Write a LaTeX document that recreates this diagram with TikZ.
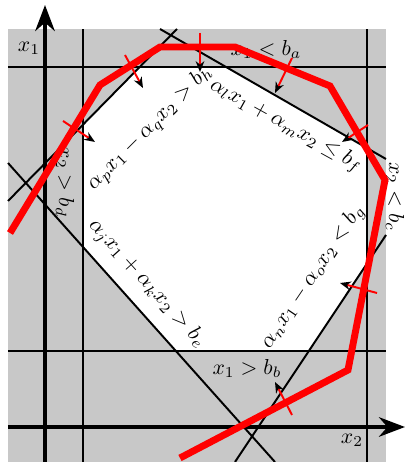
\documentclass[tikz,border=0pt]{standalone}
\usepackage{tikz}
\usetikzlibrary{arrows.meta,positioning,calc}
\tikzset{every picture/.style={line width=0.9pt}}
\definecolor{regiongray}{RGB}{200,200,200}
\tikzset{
    axis/.style={line width=1.8pt, -{Stealth[length=12pt,width=9pt]}},
    walk/.style={red, line width=3.2pt},
    inward/.style={red, line width=0.9pt, -{Stealth[color=black,length=5pt,width=4pt]}},
}

\begin{document}
\begin{tikzpicture}[x=0.1622cm, y=0.1622cm]
    \useasboundingbox (-4.5,-3.5) rectangle (36,42.7);
    % shaded box
    \coordinate (sw) at (-3.7,-3.5);
    \coordinate (ne) at (34.1,39.8);
    \fill[regiongray] (sw) rectangle (ne);

    % constraint lines
    \coordinate (a1) at (-3.7,36);   \coordinate (a2) at (34.1,36);
    \coordinate (b1) at (-3.7,7.6);  \coordinate (b2) at (34.1,7.6);
    \coordinate (c1) at (32.2,-3.5); \coordinate (c2) at (32.2,39.8);
    \coordinate (d1) at (3.8,-3.5);  \coordinate (d2) at (3.8,39.8);
    \coordinate (e1) at (-3.7,26.4); \coordinate (e2) at (23,-3.5);
    \coordinate (f1) at (11.5,39.8); \coordinate (f2) at (34.1,26.8);
    \coordinate (g1) at (19,-3.5);   \coordinate (g2) at (34.1,19.2);
    \coordinate (h1) at (-3.7,22.6); \coordinate (h2) at (13.2,39.8);

    % feasible region
    \fill[white] (intersection of h1--h2 and d1--d2)
        -- (intersection of h1--h2 and a1--a2)
        -- (intersection of a1--a2 and f1--f2)
        -- (intersection of f1--f2 and c1--c2)
        -- (intersection of c1--c2 and g1--g2)
        -- (intersection of g1--g2 and b1--b2)
        -- (intersection of b1--b2 and e1--e2)
        -- (intersection of e1--e2 and d1--d2) -- cycle;

    \foreach \p in {a,b,c,d,e,f,g,h}
        \draw (\p1) -- (\p2);

    % axes
    \draw[axis] (-3.7,0) -- (36,0);
    \draw[axis] (0,-3.5) -- (0,42.2);
    \node (xone) at (-1.6,37.9) {$x_1$};
    \node (xtwo) at (30.7,-1.3) {$x_2$};

    % labels
    \node[anchor=south] (la) at (22.1,36) {$x_1 < b_a$};
    \node[anchor=north] (lb) at (20.2,7.6) {$x_1 > b_b$};
    \node[rotate=-90] (lc) at (35,23) {$x_2 < b_c$};
    \node[rotate=-90] (ld) at (2,24.5) {$x_2 > b_d$};
    \node[rotate=-48] (le) at (10.2,14.3) {$\alpha_j x_1 + \alpha_k x_2 > b_e$};
    \node[rotate=-29] (lf) at (24.1,30.1) {$\alpha_l x_1 + \alpha_m x_2 \le b_f$};
    \node[rotate=56] (lg) at (26.8,15) {$\alpha_n x_1 - \alpha_o x_2 < b_g$};
    \node[rotate=45] (lh) at (10.5,29.9) {$\alpha_p x_1 - \alpha_q x_2 > b_h$};

    % red path and its normals
    \draw[walk] (-3.5,19.4) -- (5.5,34.2) -- (11.5,38) -- (19,38)
        -- (28.5,34.1) -- (34,24.7) -- (30.3,5.7) -- (13.5,-3.1);
    \foreach \xa/\ya/\xb/\yb in {8/37.2/9.8/33.9, 15.5/39.4/15.5/35.5,
            24.7/36.9/23/33.4, 32.3/30.2/29.7/28.5, 1.8/30.6/5/28.5,
            33.2/13.4/29.5/14.4, 24.7/1.2/23/4.5}
        \draw[inward] (\xa,\ya) -- (\xb,\yb);
\end{tikzpicture}
\end{document}
